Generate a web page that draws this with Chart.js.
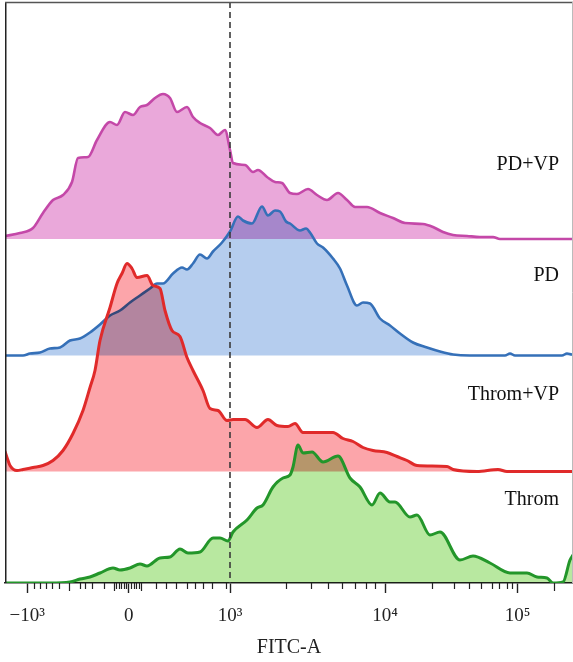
<!DOCTYPE html>
<html><head><meta charset="utf-8">
<script src="https://cdn.jsdelivr.net/npm/chart.js@4"></script>
<style>html,body{margin:0;padding:0;background:#fff;}canvas{display:block;}</style>
</head><body>
<canvas id="c" width="573" height="662"></canvas>
<script>
// ---- data (x in display channels, y in counts above each baseline) ----
const seriesNames = ['Throm', 'Throm+VP', 'PD', 'PD+VP'];

const thromX = [5,50,70,80,90,100,113,120,130,140,147,160,170,180,188,200,213,220,228,233,247,257,263,273,283,290,293,298,303,312,323,338,350,360,372,380,390,395,410,417,430,440,460,473,490,510,527,537,547,553,563,570,573];
const thromY = [0,0,1,4,6,10,15,13,15,19,17,25,26,34,30,31,45,45,42,51,63,75,78,96,105,108,116,138,130,131,121,127,105,96,78,90,81,81,66,68,48,51,23,27,20,10,10,6,5,0,1,23,28];

const thromVpX = [5,7,10,17,23,33,43,53,63,73,83,90,95,100,110,117,122,127,132,137,147,153,160,165,172,180,187,193,203,210,218,227,233,245,257,268,277,288,295,303,333,343,353,363,373,387,397,407,417,447,453,477,498,507,573];
const thromVpY = [20,14,6,1,2,4,6,11,21,38,61,84,101,131,164,188,198,208,203,194,196,186,183,161,141,135,114,101,81,63,61,51,52,52,44,52,46,45,48,39,39,33,30,24,21,19,15,11,6,5,2,0,2,0,0];

const pdX = [5,23,30,40,50,60,70,80,90,100,110,120,130,140,150,157,163,173,182,187,193,200,207,213,222,230,238,243,252,262,268,275,280,286,290,300,306,310,317,323,333,340,347,357,363,370,380,390,400,413,427,440,453,470,505,510,515,562,567,572,573];
const pdY = [0,0,2,3,7,8,15,17,23,31,40,45,53,60,67,72,72,82,88,86,92,101,97,104,113,124,139,135,132,149,140,145,144,134,132,125,127,123,112,108,97,87,70,50,53,52,37,30,22,13,8,4,1,0,0,2,0,0,2,1,1];

const pdVpX = [5,20,33,43,53,63,72,78,88,97,110,117,125,133,140,147,155,163,170,177,187,193,200,210,218,225,230,233,245,253,258,267,275,282,290,297,308,317,327,338,347,355,367,380,393,405,423,433,443,453,467,480,493,500,573];
const pdVpY = [3,6,11,26,39,44,57,81,82,99,117,114,127,124,132,134,141,145,141,127,132,122,116,111,104,109,89,76,74,67,69,62,57,56,46,45,50,44,39,46,39,32,32,26,21,16,15,12,7,4,3,2,2,0,0];

// axis ticks (display channels) and labels
const tickValues = [27.3, 128.7, 230, 385, 517.5];
const tickLabels = ['\u221210\u00B3', '0', '10\u00B3', '10\u2074', '10\u2075'];
const minorTicks = [34,40,46,52,59,80,85,92,104,116,118.5,121,123.5,126,131,133.5,136,138.5,156,166,176,187,195,203,212,226,286,311,328,342,355,366,375,432,454,469,481,492,499,507,512];
const midTicks = [69,114,141,554];
const gateValue = 230;

// ---- layout / style ----
const baselines = [0, 111.5, 227.5, 344];
const labelLift = [78, 72, 75, 69];
const lineColors = ['#23962a', '#e02a2a', '#3570b8', '#c448a8'];
const fillColors = ['#b8e8a0', '#fca5aa', '#b5cdee', '#eaa8da'];
const lineWidths = [3, 3, 2.6, 2.6];
const serif = "'Liberation Serif', 'DejaVu Serif', serif";

const xs = [thromX, thromVpX, pdX, pdVpX];
const ys = [thromY, thromVpY, pdY, pdVpY];

const datasets = seriesNames.map((name, k) => ({
  label: name,
  data: xs[k].map((x, i) => ({ x: x, y: baselines[k] + ys[k][i] })),
  borderColor: lineColors[k],
  backgroundColor: fillColors[k],
  borderWidth: lineWidths[k],
  pointRadius: 0,
  fill: { value: baselines[k] },
  cubicInterpolationMode: 'monotone',
  borderJoinStyle: 'round',
  borderCapStyle: 'round'
}));

const deco = {
  id: 'deco',
  beforeDraw(chart) {
    const c = chart.ctx; c.save(); c.fillStyle = '#fff'; c.fillRect(0, 0, chart.width, chart.height); c.restore();
  },
  // fills (drawn by the filler plugin just before each line) blend with multiply; lines draw normally
  beforeDatasetsDraw(chart) { chart.ctx.save(); chart.ctx.globalCompositeOperation = 'multiply'; },
  beforeDatasetDraw(chart) { chart.ctx.globalCompositeOperation = 'source-over'; },
  afterDatasetDraw(chart) { chart.ctx.globalCompositeOperation = 'multiply'; },
  afterDatasetsDraw(chart) {
    const ctx = chart.ctx; ctx.restore();
    const a = chart.chartArea, x = chart.scales.x, y = chart.scales.y;
    // gate line
    ctx.save();
    ctx.setLineDash([6, 4]); ctx.strokeStyle = '#3a3a3a'; ctx.lineWidth = 1.6;
    const gx = x.getPixelForValue(gateValue);
    ctx.beginPath(); ctx.moveTo(gx, a.top); ctx.lineTo(gx, a.bottom); ctx.stroke();
    ctx.restore();
    // frame
    ctx.save();
    ctx.strokeStyle = '#222'; ctx.lineWidth = 1.5;
    ctx.beginPath(); ctx.moveTo(a.left + 0.75, a.bottom); ctx.lineTo(a.left + 0.75, a.top); ctx.stroke();
    ctx.strokeStyle = '#555'; ctx.lineWidth = 1.3;
    ctx.beginPath(); ctx.moveTo(a.left, a.top + 0.5); ctx.lineTo(a.right, a.top + 0.5); ctx.stroke();
    ctx.strokeStyle = '#bbb'; ctx.lineWidth = 1;
    ctx.beginPath(); ctx.moveTo(a.right - 0.5, a.top); ctx.lineTo(a.right - 0.5, a.bottom); ctx.stroke();
    // minor ticks
    ctx.strokeStyle = '#222'; ctx.lineWidth = 1.2;
    ctx.beginPath();
    minorTicks.forEach(v => { const px = Math.round(x.getPixelForValue(v)) + 0.5; ctx.moveTo(px, a.bottom); ctx.lineTo(px, a.bottom + 6); });
    midTicks.forEach(v => { const px = Math.round(x.getPixelForValue(v)) + 0.5; ctx.moveTo(px, a.bottom); ctx.lineTo(px, a.bottom + 8); });
    ctx.stroke();
    // series labels
    ctx.fillStyle = '#111'; ctx.font = '20px ' + serif; ctx.textAlign = 'right'; ctx.textBaseline = 'alphabetic';
    seriesNames.forEach((n, k) => { ctx.fillText(n, 559, y.getPixelForValue(baselines[k] + labelLift[k])); });
    ctx.restore();
  }
};

new Chart(document.getElementById('c'), {
  type: 'line',
  data: { datasets: datasets },
  options: {
    responsive: false, animation: false, events: [],
    layout: { padding: { left: 5, top: 2, right: 0, bottom: 0 } },
    plugins: { legend: { display: false }, tooltip: { enabled: false }, filler: { drawTime: 'beforeDatasetDraw' } },
    scales: {
      x: {
        type: 'linear', min: 5, max: 573,
        afterBuildTicks(s) { s.ticks = tickValues.map(v => ({ value: v })); },
        afterFit(s) { s.height = 79; s.paddingLeft = 0; s.paddingRight = 0; },
        ticks: { autoSkip: false, maxRotation: 0, padding: 12, color: '#222', font: { family: serif, size: 19 },
                 callback: (v, i) => tickLabels[i] },
        grid: { display: true, drawOnChartArea: false, drawTicks: true, tickLength: 10, tickColor: '#222', tickWidth: 1.4 },
        border: { display: true, color: '#222', width: 1.5 },
        title: { display: true, text: 'FITC-A', color: '#222', font: { family: serif, size: 20 }, padding: { top: 4, bottom: 2 } }
      },
      y: { display: false, min: 0, max: 581 }
    }
  },
  plugins: [deco]
});
</script>
</body></html>
